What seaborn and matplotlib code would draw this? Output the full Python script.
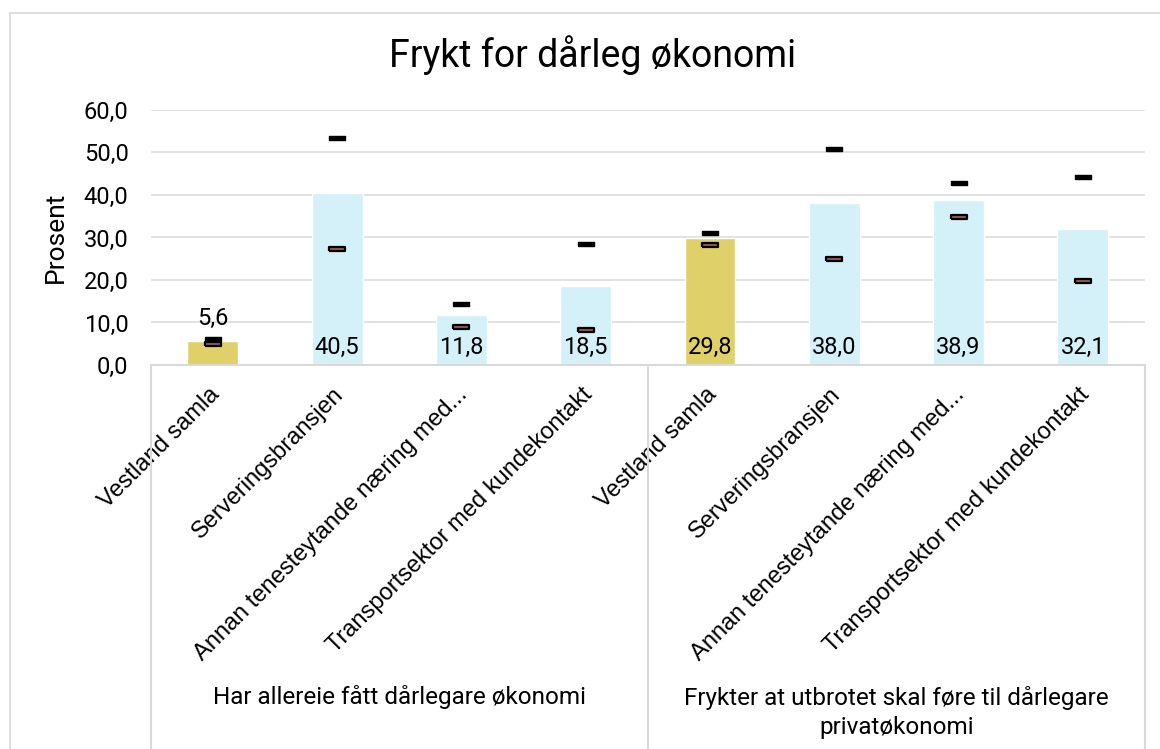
import numpy as np
import pandas as pd
import matplotlib.pyplot as plt
import matplotlib.transforms as mtransforms
from matplotlib.patches import Rectangle
from matplotlib.ticker import FuncFormatter, MultipleLocator
import seaborn as sns

# data
groups = ["Har allereie fått dårlegare økonomi",
          "Frykter at utbrotet skal føre til dårlegare\nprivatøkonomi"]
categories = ["Vestland samla", "Serveringsbransjen",
              "Annan tenesteytande næring med...", "Transportsektor med kundekontakt"]
values = [5.6, 40.5, 11.8, 18.5, 29.8, 38.0, 38.9, 32.1]
upper = [6.2, 53.3, 14.4, 28.4, 31.0, 50.7, 42.9, 44.2]
lower = [4.9, 27.4, 8.9, 8.2, 28.2, 24.9, 34.7, 19.7]
label_outside = [True, False, False, False, False, False, False, False]

yellow = "#E0D06A"
blue = "#D4F0F8"
grid_col = "#D9D9D9"

df = pd.DataFrame({
    "key": [f"{g[:4]}|{c}" for g in groups for c in categories],
    "kategori": categories * len(groups),
    "gruppe": [g for g in groups for _ in categories],
    "verdi": values,
})
palette = {k: (yellow if k.endswith("Vestland samla") else blue) for k in df["key"]}

sns.set_style("white")
plt.rcParams["font.family"] = ["Roboto", "DejaVu Sans"]
plt.rcParams["text.color"] = "black"
plt.rcParams["xtick.color"] = "black"
plt.rcParams["ytick.color"] = "black"
plt.rcParams["axes.labelcolor"] = "black"

fs = 17

fig = plt.figure(figsize=(11.6, 7.49), dpi=100)
ax = fig.add_axes([0.13, 0.5127, 0.857, 0.3405])

sns.barplot(data=df, x="key", y="verdi", hue="key", palette=palette,
            width=0.41, legend=False, saturation=1, ax=ax)

# high / low markers
pos = np.arange(len(df))
bar_marker = [(-1, -0.32), (1, -0.32), (1, 0.32), (-1, 0.32), (-1, -0.32)]
ax.plot(pos, upper, linestyle="none", marker=bar_marker, markersize=11,
        markerfacecolor="black", markeredgecolor="black", markeredgewidth=1, zorder=5)
ax.plot(pos, lower, linestyle="none", marker=bar_marker, markersize=11,
        markerfacecolor="#9A5A5A", markeredgecolor="black", markeredgewidth=1.6, zorder=5)

# value labels
for i, (v, out) in enumerate(zip(values, label_outside)):
    txt = f"{v:.1f}".replace(".", ",")
    if out:
        ax.annotate(txt, (i, v), xytext=(0, 8), textcoords="offset points",
                    ha="center", va="bottom", fontsize=fs, zorder=6)
    else:
        ax.annotate(txt, (i, 0), xytext=(0, 4), textcoords="offset points",
                    ha="center", va="bottom", fontsize=fs, zorder=6)

ax.set_ylim(0, 60)
ax.set_xlim(-0.5, len(df) - 0.5)
ax.yaxis.set_major_locator(MultipleLocator(10))
ax.yaxis.set_major_formatter(FuncFormatter(lambda y, p: f"{y:.1f}".replace(".", ",")))
ax.grid(axis="y", color=grid_col, linewidth=1.1)
ax.set_axisbelow(True)
for s in ax.spines.values():
    s.set_visible(False)
ax.tick_params(axis="y", length=0, pad=16, labelsize=fs)
ax.tick_params(axis="x", length=0, pad=19, labelsize=17)

ax.set_xticks(pos)
ax.set_xticklabels(df["kategori"], rotation=45, ha="right", va="center",
                   rotation_mode="anchor", family=["Liberation Sans", "DejaVu Sans"])
offset = mtransforms.ScaledTranslation(3 / 100, 0, fig.dpi_scale_trans)
for lab in ax.get_xticklabels():
    lab.set_transform(lab.get_transform() + offset)

ax.set_xlabel("")
ax.set_ylabel("Prosent", fontsize=19)
ax.yaxis.set_label_coords(-0.083, 0.5)

# category box lines
trans = ax.get_xaxis_transform()
ax.plot([-0.5, len(df) - 0.5], [0, 0], color=grid_col, lw=1.5, transform=trans, clip_on=False)
for xv in [-0.5, len(categories) - 0.5, len(df) - 0.5]:
    ax.plot([xv, xv], [0, -1.6], color=grid_col, lw=1.5, transform=trans, clip_on=False)

for gi, g in enumerate(groups):
    xc = gi * len(categories) + (len(categories) - 1) / 2
    yc = -1.302 if "\n" not in g else -1.363
    ax.text(xc, yc, g, transform=trans, ha="center", va="center",
            fontsize=17.5, linespacing=1.35)

fig.text(0.511, 0.927, "Frykt for dårleg økonomi", ha="center", va="center", fontsize=27)

fig.patches.append(Rectangle((10 / 1160, -0.1), 1.2, 1 - 13 / 749 + 0.1,
                             transform=fig.transFigure, fill=False,
                             edgecolor=grid_col, linewidth=1.2))

fig.savefig("out.png", dpi=100)
